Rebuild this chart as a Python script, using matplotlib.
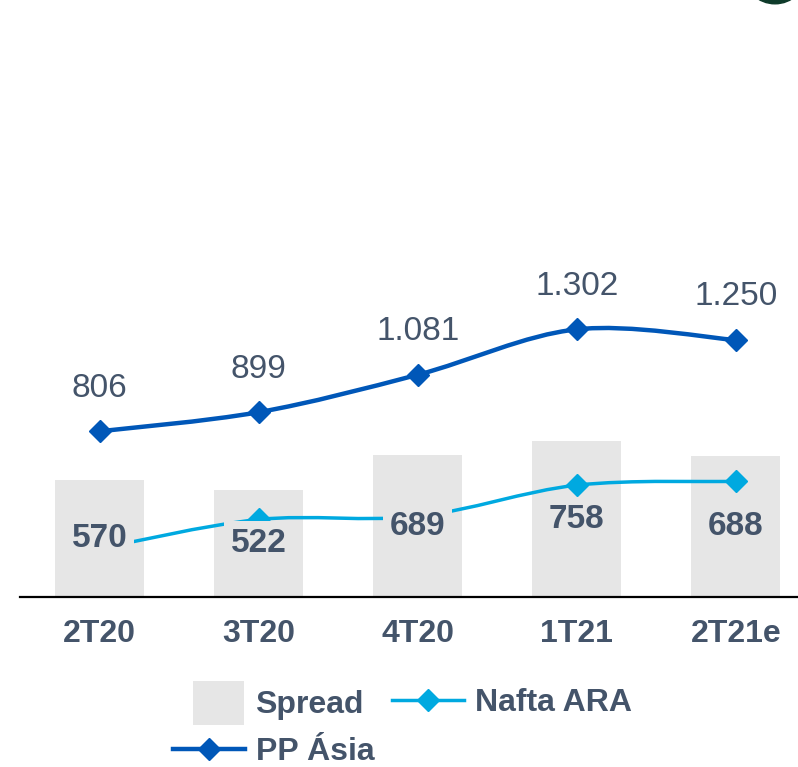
import matplotlib
matplotlib.use("Agg")
import matplotlib.pyplot as plt
from matplotlib.path import Path
from matplotlib.patches import PathPatch, Patch, Circle
from matplotlib.lines import Line2D
import numpy as np

plt.rcParams['font.family'] = ['Liberation Sans', 'DejaVu Sans']

# dados
trimestres = ["2T20", "3T20", "4T20", "1T21", "2T21e"]
spread = [570, 522, 689, 758, 688]
pp_asia = [806, 899, 1081, 1302, 1250]
nafta_ara = [236, 377, 392, 544, 562]

cor_txt = "#44546A"
cor_bar = "#E6E6E6"
cor_pp = "#0057B8"
cor_nafta = "#00A9E0"


def curva_suave(x, y):
    # curva tipo Excel (Catmull-Rom -> Bezier)
    pts = np.column_stack([x, y]).astype(float)
    n = len(pts)
    verts = [tuple(pts[0])]
    codes = [Path.MOVETO]
    for i in range(n - 1):
        p0 = pts[i - 1] if i > 0 else pts[i]
        p1 = pts[i]
        p2 = pts[i + 1]
        p3 = pts[i + 2] if i + 2 < n else pts[i + 1]
        c1 = p1 + (p2 - p0) / 6.0
        c2 = p2 - (p3 - p1) / 6.0
        verts += [tuple(c1), tuple(c2), tuple(p2)]
        codes += [Path.CURVE4] * 3
    return Path(verts, codes)


def fmt(v):
    return f"{v:,}".replace(",", ".")


fig = plt.figure(figsize=(7.98, 7.67), dpi=100)
ax = fig.add_axes([20 / 798, 1 - 597 / 767, 778 / 798, 597 / 767])

x = np.arange(len(trimestres))
ax.bar(x, spread, width=0.56, color=cor_bar, zorder=1)

ax.add_patch(PathPatch(curva_suave(x, nafta_ara), fill=False, edgecolor=cor_nafta,
                       lw=2.5, zorder=2, capstyle='round'))
ax.plot(x, nafta_ara, 'D', color=cor_nafta, ms=11, zorder=3)

ax.add_patch(PathPatch(curva_suave(x, pp_asia), fill=False, edgecolor=cor_pp,
                       lw=3.2, zorder=2, capstyle='round'))
ax.plot(x, pp_asia, 'D', color=cor_pp, ms=11, zorder=3)

# rótulos
for xi, v in zip(x, spread):
    ax.text(xi, v / 2, fmt(v), ha='center', va='center', fontsize=24,
            fontweight='bold', color=cor_txt, zorder=5,
            bbox=dict(boxstyle='square,pad=0.2', fc=cor_bar, ec='none'))
for xi, v in zip(x, pp_asia):
    ax.annotate(fmt(v), (xi, v), xytext=(0, 31), textcoords='offset points',
                ha='center', va='center', fontsize=24, color=cor_txt, zorder=5)

ax.set_xlim(-0.5, 4.39)
ax.set_ylim(0, 2904)
ax.set_yticks([])
ax.set_xticks(x)
ax.set_xticklabels(trimestres, fontsize=23, fontweight='bold', color=cor_txt)
ax.tick_params(axis='x', length=0, pad=16)
for s in ['top', 'right', 'left']:
    ax.spines[s].set_visible(False)
ax.spines['bottom'].set_color('black')
ax.spines['bottom'].set_linewidth(1.6)

# legenda
leg_kw = dict(frameon=False, prop={'weight': 'bold', 'size': 23}, labelcolor=cor_txt,
              borderpad=0, borderaxespad=0, handletextpad=0.35)
h_spread = Patch(facecolor=cor_bar, edgecolor='none')
h_nafta = Line2D([], [], color=cor_nafta, lw=2.5, marker='D', ms=11)
h_pp = Line2D([], [], color=cor_pp, lw=3.2, marker='D', ms=11)

l1 = fig.legend([h_spread], ["Spread"], loc='center left',
                bbox_to_anchor=(193 / 798, 1 - 703 / 767), handlelength=1.6,
                handleheight=1.25, **leg_kw)
l2 = fig.legend([h_nafta], ["Nafta ARA"], loc='center left',
                bbox_to_anchor=(392 / 798, 1 - 703 / 767), handlelength=2.25, **leg_kw)
l3 = fig.legend([h_pp], ["PP Ásia"], loc='center left',
                bbox_to_anchor=(173 / 798, 1 - 752 / 767), handlelength=2.25, **leg_kw)
# carré plus haut comme dans l'original
for p in l1.get_patches():
    p.set_height(p.get_height() * 1.3)
    p.set_y(p.get_y() - p.get_height() * 0.12)

# logo cortado no topo
fig.patches.append(Circle((775 / 798, 1 + 26 / 767), 31 / 798, transform=fig.transFigure,
                          color='#0E3B2A', zorder=0))

fig.savefig("out.png", dpi=100)
